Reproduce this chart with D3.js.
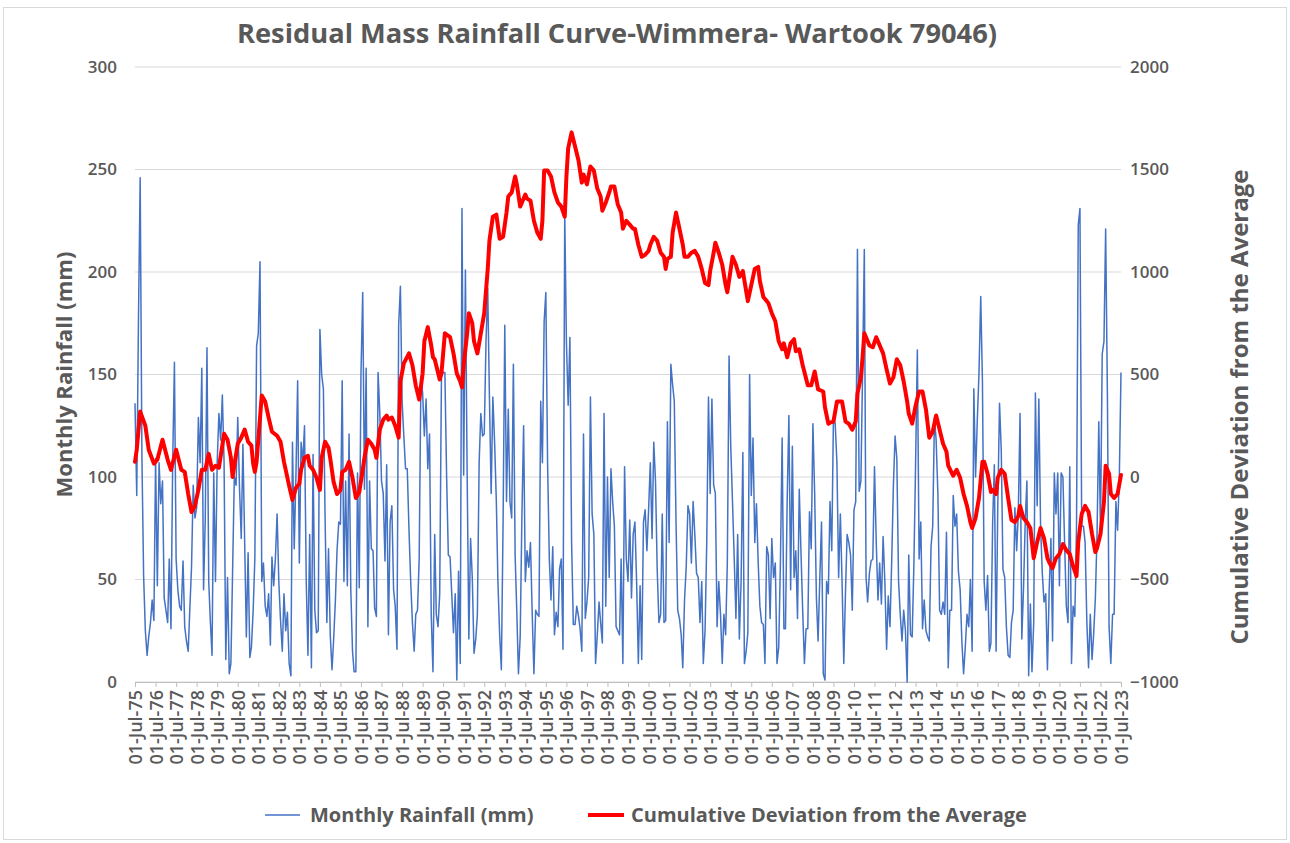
<!DOCTYPE html>
<html>
<head>
<meta charset="utf-8">
<script src="https://cdn.jsdelivr.net/npm/d3@7"></script>
<style>
  body { margin: 0; background: #fff; }
  svg text { fill: #595959; font-family: "Open Sans", "DejaVu Sans", sans-serif; }
</style>
</head>
<body>
<svg></svg>
<script>
// monthly rainfall (mm), one row per year starting 01-Jul
var rainfall = [
  136, 91, 178, 246, 110, 52, 25, 13, 22, 29, 40, 30,
  109, 47, 107, 87, 98, 41, 35, 29, 60, 26, 107, 156,
  60, 45, 37, 35, 59, 27, 20, 15, 35, 56, 96, 80,
  85, 129, 107, 153, 45, 79, 163, 49, 30, 13, 102, 49,
  107, 131, 118, 140, 107, 11, 51, 4, 9, 55, 100, 96,
  129, 95, 70, 116, 68, 22, 63, 12, 17, 35, 60, 164,
  170, 205, 49, 58, 37, 32, 43, 18, 61, 47, 60, 82,
  49, 30, 15, 43, 25, 34, 9, 3, 117, 65, 100, 147,
  58, 117, 107, 125, 49, 13, 72, 7, 111, 35, 24, 25,
  172, 150, 143, 80, 29, 65, 23, 6, 20, 39, 64, 78,
  77, 147, 49, 98, 47, 121, 45, 15, 5, 5, 102, 46,
  150, 190, 94, 153, 27, 98, 65, 64, 36, 32, 151, 131,
  98, 92, 59, 106, 23, 78, 86, 45, 37, 16, 174, 193,
  137, 120, 104, 104, 74, 49, 29, 15, 33, 35, 60, 149,
  141, 120, 138, 104, 121, 33, 5, 72, 33, 27, 43, 149,
  151, 151, 100, 62, 61, 43, 24, 43, 1, 54, 9, 231,
  101, 201, 102, 21, 70, 51, 14, 21, 33, 107, 131, 120,
  121, 166, 192, 139, 92, 139, 117, 88, 49, 23, 6, 78,
  174, 88, 133, 88, 80, 155, 62, 33, 4, 22, 80, 125,
  49, 64, 56, 68, 33, 4, 35, 33, 32, 137, 107, 176,
  190, 107, 60, 40, 66, 23, 34, 27, 55, 60, 16, 229,
  166, 135, 168, 68, 28, 28, 37, 32, 26, 15, 121, 31,
  39, 51, 139, 82, 72, 9, 23, 39, 29, 19, 131, 37,
  100, 51, 104, 88, 76, 27, 25, 23, 60, 9, 105, 60,
  49, 79, 41, 72, 78, 49, 9, 47, 11, 78, 84, 64,
  84, 107, 70, 117, 98, 55, 29, 33, 82, 29, 30, 127,
  68, 155, 145, 137, 78, 35, 31, 23, 7, 40, 56, 86,
  82, 58, 88, 72, 53, 51, 29, 49, 9, 25, 68, 139,
  92, 138, 96, 92, 27, 49, 33, 9, 33, 23, 58, 159,
  115, 88, 60, 31, 72, 21, 49, 112, 9, 15, 24, 150,
  91, 119, 68, 87, 58, 37, 29, 28, 9, 66, 62, 31,
  70, 51, 58, 9, 17, 58, 119, 26, 26, 90, 130, 45,
  115, 51, 64, 31, 94, 64, 35, 9, 26, 26, 83, 65,
  126, 92, 41, 20, 51, 78, 4, 1, 49, 43, 88, 64,
  129, 126, 107, 51, 82, 49, 9, 45, 72, 68, 62, 35,
  84, 88, 211, 93, 98, 151, 211, 51, 39, 53, 59, 60,
  105, 68, 40, 58, 38, 71, 49, 16, 42, 27, 58, 96,
  120, 109, 49, 33, 20, 35, 25, 0, 62, 23, 22, 58,
  107, 162, 60, 78, 26, 40, 25, 22, 20, 66, 76, 129,
  118, 92, 35, 33, 39, 33, 73, 7, 35, 35, 91, 76,
  82, 54, 45, 20, 4, 17, 33, 27, 50, 15, 143, 100,
  127, 151, 188, 147, 49, 35, 52, 15, 19, 78, 106, 15,
  86, 136, 113, 55, 51, 27, 13, 12, 29, 35, 85, 64,
  82, 131, 21, 45, 78, 98, 3, 38, 5, 29, 141, 86,
  138, 76, 53, 39, 43, 6, 45, 70, 20, 102, 82, 102,
  47, 102, 100, 68, 37, 29, 105, 9, 37, 32, 76, 223,
  231, 76, 76, 68, 29, 7, 33, 11, 23, 41, 72, 127,
  74, 160, 166, 221, 141, 27, 9, 33, 33, 88, 74, 100,
  151
];

// cumulative deviation, read at these month offsets from 01-Jul-75
var devMonth = [0, 1, 3, 6, 8, 11, 13, 16, 19, 21, 24, 27, 29, 31, 33, 35, 37, 39, 41, 43, 45, 47, 49, 52, 54, 56, 57, 58,
  60, 62, 64, 66, 68, 69, 70, 71, 74, 76, 78, 80, 83, 85, 87, 90, 92, 94, 96, 97, 99, 101, 102, 104, 106, 108, 109, 111,
  113, 114, 116, 118, 120, 121, 123, 125, 127, 129, 131, 133, 134, 136, 138, 140, 141, 143, 145, 147, 148, 150, 152, 154,
  155, 157, 160, 162, 164, 166, 168, 169, 171, 173, 174, 175, 178, 179, 181, 184, 186, 188, 190, 191, 192, 194, 195, 197,
  198, 200, 202, 204, 206, 207, 209, 211, 213, 215, 217, 218, 220, 222, 223, 225, 228, 229, 231, 233, 235, 237, 238, 239,
  241, 243, 245, 247, 249, 251, 252, 253, 255, 257, 259, 261, 262, 264, 266, 268, 270, 272, 273, 275, 277, 278, 280, 282,
  284, 285, 287, 289, 291, 292, 294, 296, 298, 300, 301, 303, 305, 307, 309, 310, 311, 313, 314, 316, 318, 320, 321, 323,
  325, 327, 329, 331, 333, 335, 336, 338, 339, 341, 343, 345, 346, 348, 349, 351, 353, 355, 357, 358, 360, 362, 364, 365,
  367, 369, 370, 372, 374, 376, 378, 379, 381, 383, 385, 386, 388, 390, 393, 395, 397, 399, 402, 403, 405, 406, 408, 410,
  413, 415, 417, 419, 421, 422, 424, 425, 426, 429, 431, 433, 435, 437, 439, 441, 443, 445, 447, 449, 451, 452, 454, 456,
  458, 460, 462, 464, 466, 468, 470, 472, 474, 475, 478, 480, 482, 484, 486, 488, 489, 491, 493, 495, 496, 498, 500, 501,
  503, 504, 506, 508, 510, 512, 514, 516, 517, 519, 521, 523, 525, 527, 529, 531, 533, 534, 536, 538, 540, 542, 544, 546,
  548, 550, 551, 553, 555, 557, 559, 561, 562, 564, 566, 567, 569, 570, 572, 574, 576];
var devValue = [74, 133, 319, 250, 133, 65, 84, 182, 84, 35, 133, 35, 25, -83, -171, -141, -63, 35, 35, 113, 35, 55, 45, 211, 182, 94, 0, 55,
  162, 192, 231, 172, 153, 65, 25, 74, 398, 368, 290, 221, 201, 172, 74, -43, -112, -53, -33, 35, 94, 103, 55, 35, -4, -63, 94, 172,
  143, 90, -24, -83, -63, 25, 35, 74, -4, -102, -73, 35, 94, 182, 162, 133, 94, 231, 280, 300, 280, 290, 250, 192,
  466, 554, 603, 545, 447, 378, 505, 662, 731, 642, 584, 574, 476, 505, 701, 682, 603, 505, 466, 437, 545, 701, 799, 750,
  662, 603, 701, 799, 1015, 1152, 1270, 1280, 1162, 1172, 1290, 1368, 1388, 1466, 1427, 1319, 1378, 1358, 1348, 1250, 1191, 1162, 1250, 1495,
  1495, 1466, 1388, 1339, 1319, 1270, 1466, 1603, 1681, 1613, 1544, 1436, 1476, 1427, 1515, 1495, 1407, 1368, 1299, 1339, 1388, 1417, 1417, 1329,
  1290, 1211, 1250, 1231, 1211, 1211, 1133, 1074, 1084, 1103, 1133, 1172, 1152, 1094, 1074, 1015, 1064, 1074, 1191, 1290, 1211, 1133, 1074, 1074,
  1094, 1103, 1074, 1015, 946, 936, 1005, 1094, 1143, 1094, 1035, 936, 901, 1015, 1074, 1035, 976, 1005, 907, 858, 936, 1015, 1025, 956,
  878, 858, 848, 799, 760, 662, 623, 652, 584, 652, 672, 613, 623, 545, 447, 447, 515, 427, 417, 339, 260, 265, 270, 368,
  368, 270, 260, 231, 270, 407, 486, 584, 701, 642, 633, 682, 642, 603, 525, 456, 486, 574, 545, 466, 368, 309, 260, 348,
  417, 417, 329, 192, 221, 300, 231, 162, 123, 55, 6, 35, -4, -83, -141, -220, -249, -200, -102, 74, 74, 16, -73, -63,
  -83, -4, 35, 16, -102, -210, -220, -190, -141, -200, -220, -250, -396, -318, -249, -298, -396, -416, -445, -396, -376, -327, -357, -376,
  -435, -484, -318, -180, -141, -171, -278, -366, -347, -278, -122, 55, 16, -83, -102, -83, 10];

var leftTicks = [0, 50, 100, 150, 200, 250, 300];
var rightTicks = [-1000, -500, 0, 500, 1000, 1500, 2000];
var firstYear = 1975, lastYear = 2023;

var W = 1290, H = 843;
var margin = { top: 67, right: 169, bottom: 161, left: 135 },
  width = W - margin.left - margin.right,
  height = H - margin.top - margin.bottom;

function monthDate(i) { return new Date(firstYear, 6 + i, 1); }

var svg = d3.select("svg").attr("width", W).attr("height", H);

// chart frame
svg.append("rect")
  .attr("x", 3.5).attr("y", 7.5)
  .attr("width", 1283).attr("height", 832)
  .attr("fill", "#fff").attr("stroke", "#d9d9d9");

var g = svg.append("g")
  .attr("transform", "translate(" + margin.left + "," + margin.top + ")");

var x = d3.scaleTime()
  .domain([new Date(firstYear, 6, 1), new Date(lastYear, 6, 1)])
  .range([0, width]);
var y = d3.scaleLinear().domain([0, 300]).range([height, 0]);
var y2 = d3.scaleLinear().domain([-1000, 2000]).range([height, 0]);

// gridlines
g.selectAll(".grid")
  .data(leftTicks)
  .enter().append("line")
  .attr("x1", 0).attr("x2", width)
  .attr("y1", function(d) { return y(d); })
  .attr("y2", function(d) { return y(d); })
  .attr("stroke", "#d9d9d9").attr("stroke-width", 1);

// x axis
var yearTicks = d3.range(firstYear, lastYear + 1).map(function(yr) { return new Date(yr, 6, 1); });
var xAxis = d3.axisBottom(x)
  .tickValues(yearTicks)
  .tickFormat(d3.timeFormat("%d-%b-%y"))
  .tickSize(5).tickSizeOuter(0);

var xg = g.append("g")
  .attr("transform", "translate(0," + height + ")")
  .call(xAxis);
xg.select(".domain").attr("stroke", "#bfbfbf");
xg.selectAll(".tick line").attr("stroke", "#bfbfbf");
xg.selectAll("text")
  .style("font-size", "18px").style("font-weight", 600)
  .attr("transform", "rotate(-90)")
  .attr("text-anchor", "end")
  .attr("x", -8).attr("y", 0).attr("dy", "0.36em");

// left axis
var yg = g.append("g").call(d3.axisLeft(y).tickValues(leftTicks).tickSize(0).tickPadding(18));
yg.select(".domain").remove();
yg.selectAll("text").style("font-size", "17px").style("font-weight", 600);

// right axis
var y2g = g.append("g")
  .attr("transform", "translate(" + width + ",0)")
  .call(d3.axisRight(y2).tickValues(rightTicks).tickFormat(d3.format("d")).tickSize(0).tickPadding(9));
y2g.select(".domain").remove();
y2g.selectAll("text").style("font-size", "17px").style("font-weight", 600);

// monthly rainfall
var rainLine = d3.line()
  .x(function(d, i) { return x(monthDate(i)); })
  .y(function(d) { return y(d); });

g.append("path")
  .datum(rainfall)
  .attr("fill", "none")
  .attr("stroke", "#4472C4")
  .attr("stroke-width", 1.5)
  .attr("stroke-linejoin", "round")
  .attr("d", rainLine);

// cumulative deviation
var devLine = d3.line()
  .x(function(d) { return x(monthDate(d[0])); })
  .y(function(d) { return y2(d[1]); });

g.append("path")
  .datum(d3.zip(devMonth, devValue))
  .attr("fill", "none")
  .attr("stroke", "#FF0000")
  .attr("stroke-width", 4)
  .attr("stroke-linejoin", "round")
  .attr("stroke-linecap", "round")
  .attr("d", devLine);

// title
svg.append("text")
  .attr("x", 617).attr("y", 43)
  .attr("text-anchor", "middle")
  .attr("textLength", 760).attr("lengthAdjust", "spacingAndGlyphs")
  .style("font-family", "'Liberation Sans Narrow', 'Open Sans', sans-serif")
  .style("font-size", "27px").style("font-weight", 700)
  .text("Residual Mass Rainfall Curve-Wimmera- Wartook 79046)");

// axis titles
svg.append("text")
  .attr("transform", "translate(72," + (margin.top + height / 2) + ") rotate(-90)")
  .attr("text-anchor", "middle")
  .style("font-size", "22px").style("font-weight", 700)
  .text("Monthly Rainfall (mm)");

svg.append("text")
  .attr("transform", "translate(1248,407) rotate(-90)")
  .attr("text-anchor", "middle")
  .attr("textLength", 475).attr("lengthAdjust", "spacingAndGlyphs")
  .style("font-size", "23px").style("font-weight", 700)
  .text("Cumulative Deviation from the Average");

// legend
var legend = svg.append("g").attr("transform", "translate(0,815)");
legend.append("line").attr("x1", 265).attr("x2", 300).attr("y1", 0).attr("y2", 0)
  .attr("stroke", "#4472C4").attr("stroke-width", 1.5);
legend.append("text").attr("x", 310).attr("y", 0).attr("dy", "0.35em")
  .style("font-size", "20px").style("font-weight", 700)
  .text("Monthly Rainfall (mm)");
legend.append("line").attr("x1", 588).attr("x2", 624).attr("y1", 0).attr("y2", 0)
  .attr("stroke", "#FF0000").attr("stroke-width", 4);
legend.append("text").attr("x", 631).attr("y", 0).attr("dy", "0.35em")
  .style("font-size", "20px").style("font-weight", 700)
  .text("Cumulative Deviation from the Average");
</script>
</body>
</html>
